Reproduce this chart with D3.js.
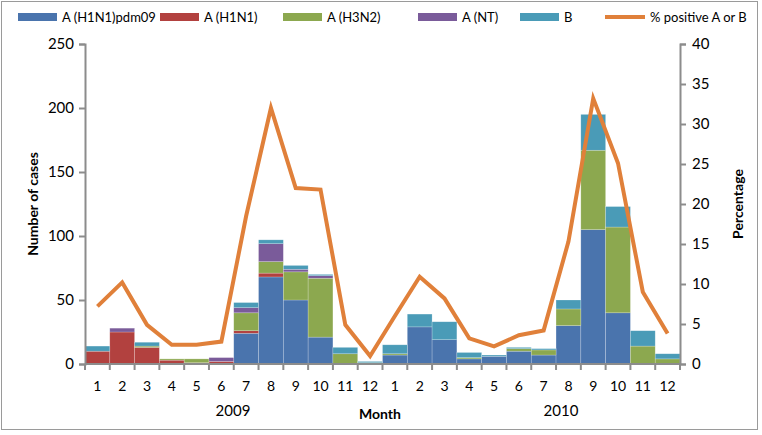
<!DOCTYPE html>
<html lang="en">
<head>
  <meta charset="UTF-8">
  <title>Influenza cases by month</title>
  <script src="https://d3js.org/d3.v7.min.js"></script>
  <style>
    body { margin: 0; background: #fff; }
    text { font-family: Lato, "Open Sans", sans-serif; fill: #000; }
  </style>
</head>
<body>
<div id="chart"></div>
<script>
  // Data
  const months = ["1","2","3","4","5","6","7","8","9","10","11","12",
                  "1","2","3","4","5","6","7","8","9","10","11","12"];
  const years = ["2009", "2010"];
  const seriesNames = ["A (H1N1)pdm09", "A (H1N1)", "A (H3N2)", "A (NT)", "B"];
  const pdm09 = [0,0,0,0,0,0,24,68,50,21,0,0, 7,29,19,4,6,10,7,30,105,40,0,0];
  const h1n1  = [10,25,13,3,1,2,2,3,0,0,0,0, 0,0,0,0,0,0,0,0,0,0,0,0];
  const h3n2  = [0,0,1,1,3,0,14,9,22,46,8,1, 1,0,0,1,0,2,4,13,62,67,14,4];
  const nt    = [0,3,0,0,0,3,4,14,2,2,0,0, 0,0,0,0,0,0,0,0,0,0,0,0];
  const fluB  = [4,0,3,0,0,0,4,3,3,1,5,1, 7,10,14,4,1,1,1,7,28,16,12,4];
  const pctPositive = [7.2,10.2,4.9,2.4,2.4,2.8,18.5,32,22,21.8,4.9,1,
                       6,10.9,8.2,3.2,2.2,3.6,4.2,15.3,33.2,25.1,9,3.8];
  const lineName = "% positive A or B";
  const leftTicks = [0,50,100,150,200,250];
  const rightTicks = [0,5,10,15,20,25,30,35,40];

  // Settings
  const width = 762, height = 435;
  const plot = { left: 85, right: 680, top: 44, bottom: 364 };
  const colors = ["#4a74ad", "#b2413f", "#8ca84f", "#7a5b9a", "#4a9bb7"];
  const lineColor = "#e0803a";
  const axisColor = "#8c8c8c";

  const rows = months.map((m, i) => ({
    i: i, s0: pdm09[i], s1: h1n1[i], s2: h3n2[i], s3: nt[i], s4: fluB[i]
  }));

  const svg = d3.select("#chart").append("svg")
    .attr("width", width).attr("height", height);

  // outer frame
  svg.append("rect")
    .attr("x", 1.5).attr("y", 1.5)
    .attr("width", 756).attr("height", 428)
    .attr("fill", "none").attr("stroke", "#9a9a9a").attr("stroke-width", 1);

  const x = d3.scaleBand().domain(d3.range(months.length))
    .range([plot.left, plot.right]).padding(0);
  const yLeft = d3.scaleLinear().domain([0, 250]).range([plot.bottom, plot.top]);
  const yRight = d3.scaleLinear().domain([0, 40]).range([plot.bottom, plot.top]);

  // stacked bars
  const stack = d3.stack().keys(["s0","s1","s2","s3","s4"]);
  const layers = stack(rows);

  svg.append("g").selectAll("g")
    .data(layers)
    .join("g")
    .attr("fill", (d, k) => colors[k])
    .selectAll("rect")
    .data(d => d.filter(p => p[1] - p[0] > 0))
    .join("rect")
    .attr("x", p => x(p.data.i))
    .attr("width", x.bandwidth())
    .attr("y", p => yLeft(p[1]))
    .attr("height", p => yLeft(p[0]) - yLeft(p[1]))
    .attr("stroke", "rgba(255,255,255,0.35)")
    .attr("stroke-width", 0.6);

  // left axis
  const leftAxis = svg.append("g")
    .attr("transform", `translate(${plot.left},0)`)
    .call(d3.axisLeft(yLeft).tickValues(leftTicks).tickSize(6).tickPadding(5));
  // right axis
  const rightAxis = svg.append("g")
    .attr("transform", `translate(${plot.right},0)`)
    .call(d3.axisRight(yRight).tickValues(rightTicks).tickSize(6).tickPadding(6));
  // bottom axis: ticks at month boundaries
  const bottom = svg.append("g");
  bottom.append("line")
    .attr("x1", plot.left).attr("x2", plot.right)
    .attr("y1", plot.bottom).attr("y2", plot.bottom)
    .attr("stroke", axisColor).attr("stroke-width", 2);
  bottom.selectAll(".mtick")
    .data(d3.range(months.length + 1))
    .join("line")
    .attr("class", "mtick")
    .attr("x1", i => plot.left + i * x.step())
    .attr("x2", i => plot.left + i * x.step())
    .attr("y1", plot.bottom).attr("y2", plot.bottom + 6)
    .attr("stroke", axisColor).attr("stroke-width", 2);
  bottom.selectAll(".mlabel")
    .data(months)
    .join("text")
    .attr("class", "mlabel")
    .attr("x", (d, i) => x(i) + x.bandwidth() / 2)
    .attr("y", 391)
    .attr("text-anchor", "middle")
    .style("font-size", "14px")
    .text(d => d);
  bottom.selectAll(".ylabel")
    .data(years)
    .join("text")
    .attr("class", "ylabel")
    .attr("x", (d, i) => i === 0 ? 233 : 561)
    .attr("y", 416)
    .attr("text-anchor", "middle")
    .style("font-size", "15px")
    .text(d => d);

  [leftAxis, rightAxis].forEach(g => {
    g.select(".domain").attr("stroke", axisColor).attr("stroke-width", 2);
    g.selectAll(".tick line").attr("stroke", axisColor).attr("stroke-width", 2);
    g.selectAll(".tick text").style("font-size", "15px")
      .style("font-family", "Lato, 'Open Sans', sans-serif").attr("fill", "#000");
  });

  // percentage line
  const line = d3.line()
    .x((d, i) => x(i) + x.bandwidth() / 2)
    .y(d => yRight(d));
  svg.append("path")
    .datum(pctPositive)
    .attr("d", line)
    .attr("fill", "none")
    .attr("stroke", lineColor)
    .attr("stroke-width", 4)
    .attr("stroke-linejoin", "miter");

  // axis titles
  svg.append("text")
    .attr("transform", `translate(38,${(plot.top + plot.bottom) / 2}) rotate(-90)`)
    .attr("text-anchor", "middle")
    .style("font-size", "14px").style("font-weight", "bold")
    .text("Number of cases");
  svg.append("text")
    .attr("transform", `translate(743,${(plot.top + plot.bottom) / 2}) rotate(-90)`)
    .attr("text-anchor", "middle")
    .style("font-size", "14px").style("font-weight", "bold")
    .text("Percentage");
  svg.append("text")
    .attr("x", 380).attr("y", 419)
    .attr("text-anchor", "middle")
    .style("font-size", "14px").style("font-weight", "bold")
    .text("Month");

  // legend
  const legendX = [18, 160, 283, 418, 520];
  const legend = svg.append("g");
  seriesNames.forEach((name, k) => {
    legend.append("rect")
      .attr("x", legendX[k]).attr("y", 13)
      .attr("width", 39).attr("height", 8)
      .attr("fill", colors[k]);
    legend.append("text")
      .attr("x", legendX[k] + 44).attr("y", 22)
      .style("font-size", "13px")
      .text(name);
  });
  legend.append("line")
    .attr("x1", 605).attr("x2", 645).attr("y1", 17).attr("y2", 17)
    .attr("stroke", lineColor).attr("stroke-width", 4);
  legend.append("text")
    .attr("x", 650).attr("y", 22)
    .style("font-size", "13px")
    .text(lineName);
</script>
</body>
</html>
